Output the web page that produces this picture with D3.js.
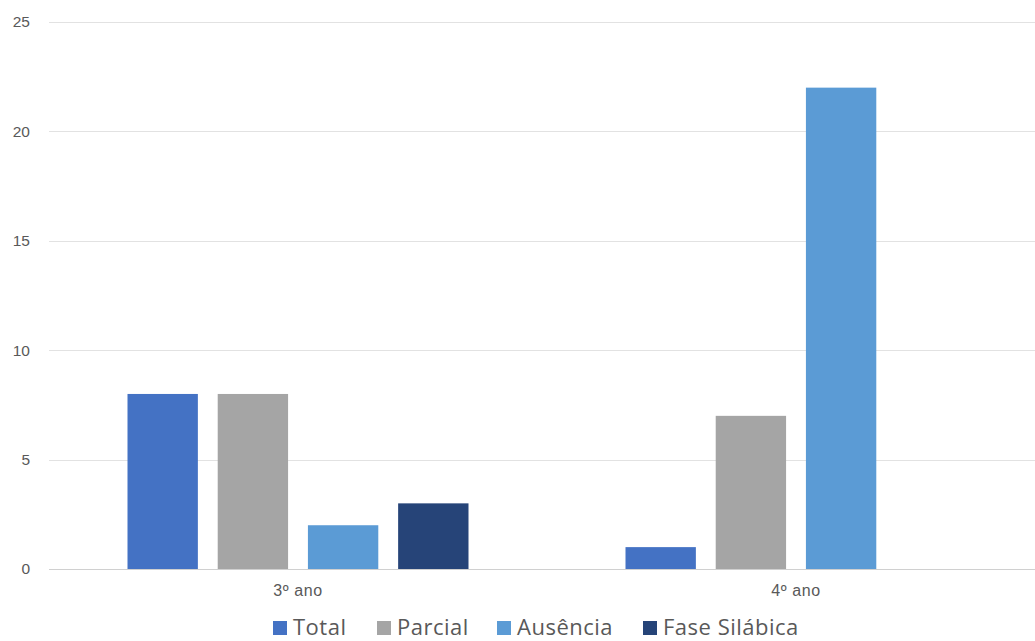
<!DOCTYPE html>
<html>
<head>
<meta charset="utf-8">
<script src="https://cdn.jsdelivr.net/npm/d3@7"></script>
<style>
  html, body { margin: 0; padding: 0; background: #ffffff; overflow: hidden; }
  svg { display: block; font-family: "Open Sans", "Noto Sans", sans-serif; }
</style>
</head>
<body>
<svg id="chart" width="1035" height="641"></svg>
<script>
// Anos escolares e séries
const categories = ["3º ano", "4º ano"];
const seriesNames = ["Total", "Parcial", "Ausência", "Fase Silábica"];
const seriesColors = ["#4472c4", "#a5a5a5", "#5b9bd5", "#264478"];

// Valores por série (na ordem das categorias)
const totalValues = [8, 1];
const parcialValues = [8, 7];
const ausenciaValues = [2, 22];
const faseSilabicaValues = [3, 0];

const yTicks = [0, 5, 10, 15, 20, 25];

const seriesValues = [totalValues, parcialValues, ausenciaValues, faseSilabicaValues];

const svg = d3.select("#chart");

const x0 = d3.scaleBand().domain(categories).range([49, 1045]).paddingInner(0).paddingOuter(0);
const x1 = d3.scaleBand().domain(seriesNames).range([0, 341]).paddingInner(0.22).paddingOuter(0);
const y = d3.scaleLinear().domain([0, 25]).range([569, 22]);

// Linhas de grade horizontais
svg.append("g")
  .selectAll("line")
  .data(yTicks)
  .join("line")
  .attr("x1", 49).attr("x2", 1045)
  .attr("y1", d => Math.round(y(d)) + 0.5)
  .attr("y2", d => Math.round(y(d)) + 0.5)
  .attr("stroke", d => d === 0 ? "#d0d0d0" : "#e2e2e2")
  .attr("stroke-width", 1);

// Rótulos do eixo Y
const yAxis = d3.axisLeft(y).tickValues(yTicks).tickSize(0).tickPadding(0);
const yg = svg.append("g").attr("transform", "translate(30,0)").call(yAxis);
yg.select(".domain").remove();
yg.selectAll("text").attr("fill", "#595959").attr("font-size", "15.5px");

// Barras
const groups = svg.append("g")
  .selectAll("g")
  .data(categories)
  .join("g")
  .attr("transform", d => `translate(${x0(d) + x0.bandwidth() / 2 - 170.5},0)`);

groups.selectAll("rect")
  .data((c, ci) => seriesNames.map((s, si) => ({ s, si, v: seriesValues[si][ci] })))
  .join("rect")
  .attr("x", d => x1(d.s))
  .attr("width", x1.bandwidth())
  .attr("y", d => y(d.v))
  .attr("height", d => y(0) - y(d.v))
  .attr("fill", d => seriesColors[d.si]);

// Rótulos do eixo X
const xAxis = d3.axisBottom(x0).tickSize(0).tickPadding(0);
const xg = svg.append("g").attr("transform", "translate(0,585)").call(xAxis);
xg.select(".domain").remove();
xg.selectAll("text").attr("fill", "#595959").attr("font-size", "16px").attr("letter-spacing", "0.6px");

// Legenda
const legendX = [273, 377, 497, 643];
const legend = svg.append("g")
  .selectAll("g")
  .data(seriesNames)
  .join("g")
  .attr("transform", (d, i) => `translate(${legendX[i]},621)`);

legend.append("rect")
  .attr("x", 0).attr("y", 0)
  .attr("width", 14).attr("height", 14)
  .attr("fill", (d, i) => seriesColors[i]);

legend.append("text")
  .attr("x", 20).attr("y", 14)
  .attr("fill", "#595959")
  .attr("font-size", "22px")
  .attr("letter-spacing", "0.5px")
  .text(d => d);
</script>
</body>
</html>
